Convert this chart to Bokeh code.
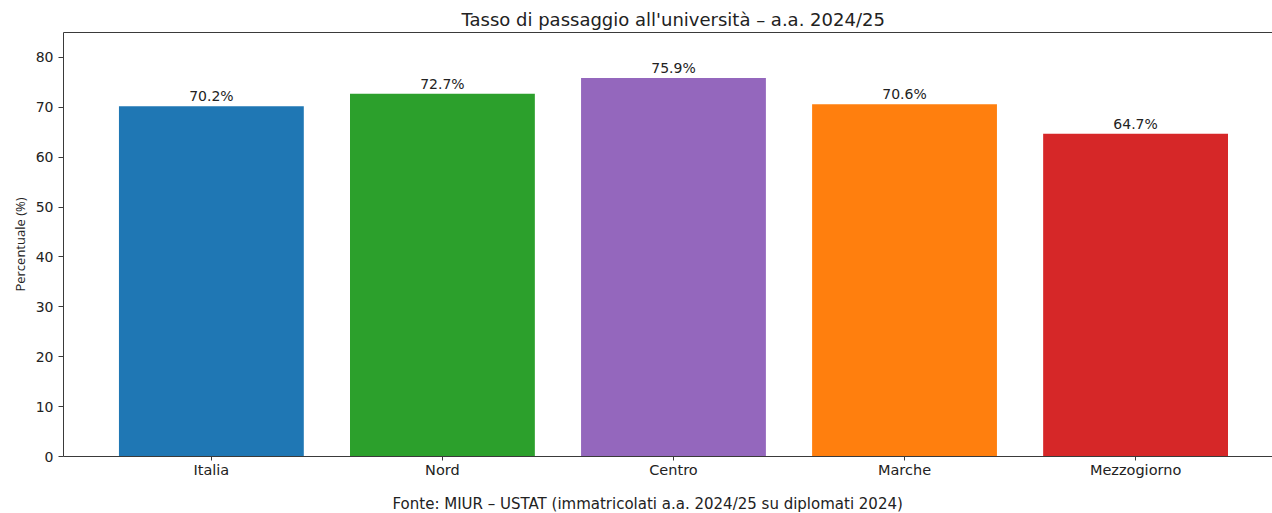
from bokeh.plotting import figure
from bokeh.models import ColumnDataSource, FixedTicker, LinearAxis, Range1d, Title
from bokeh.embed import file_html
from bokeh.resources import INLINE
from bokeh.core.properties import value

# ---- data ----
categories = ["Italia", "Nord", "Centro", "Marche", "Mezzogiorno"]
values = [70.2, 72.7, 75.9, 70.6, 64.7]
colors = ["#1f77b4", "#2ca02c", "#9467bd", "#ff7f0e", "#d62728"]
y_ticks = [0, 10, 20, 30, 40, 50, 60, 70, 80]
title_text = "Tasso di passaggio all'università – a.a. 2024/25"
source_text = "Fonte: MIUR – USTAT (immatricolati a.a. 2024/25 su diplomati 2024)"
y_label = "Percentuale (%)"

xs = list(range(len(categories)))
labels = [f"{v:.1f}%" for v in values]
src = ColumnDataSource(dict(x=xs, top=values, color=colors, label=labels))

TXT = "#222222"
AX = "#3a3a3a"

p = figure(width=1272, height=513, output_backend="svg", toolbar_location=None,
           x_range=Range1d(-0.64, 4.5926), y_range=Range1d(0, 85),
           min_border_left=63, min_border_right=0, min_border_top=32, min_border_bottom=57)
p.outline_line_color = None
p.xgrid.visible = False
p.ygrid.visible = False

p.vbar(x="x", top="top", bottom=0, width=0.8, fill_color="color", line_color=None, source=src)
p.text(x="x", y="top", text="label", source=src, text_align="center", text_baseline="bottom",
       y_offset=-2, text_font=value("DejaVu Sans"), text_font_size="14px", text_color=TXT)

# x axis
p.xaxis.ticker = FixedTicker(ticks=xs)
p.xaxis.major_label_overrides = {i: c for i, c in zip(xs, categories)}
p.xaxis.minor_tick_line_color = None
p.xaxis.major_tick_in = 0
p.xaxis.major_tick_out = 4
p.xaxis.major_label_standoff = 1
p.xaxis.axis_line_color = AX
p.xaxis.major_tick_line_color = AX
p.xaxis.major_label_text_font = "DejaVu Sans"
p.xaxis.major_label_text_font_size = "14.5px"
p.xaxis.major_label_text_color = TXT

# y axis
p.yaxis.ticker = FixedTicker(ticks=y_ticks)
p.yaxis.minor_tick_line_color = None
p.yaxis.major_tick_in = 0
p.yaxis.major_tick_out = 5
p.yaxis.major_label_standoff = 5
p.yaxis.axis_line_color = AX
p.yaxis.major_tick_line_color = AX
p.yaxis.major_label_text_font = "DejaVu Sans"
p.yaxis.major_label_text_font_size = "14px"
p.yaxis.major_label_text_color = TXT
p.yaxis.axis_label = y_label
p.yaxis.axis_label_text_font = "Open Sans"
p.yaxis.axis_label_text_font_size = "13px"
p.yaxis.axis_label_text_font_style = "normal"
p.yaxis.axis_label_text_color = TXT
p.yaxis.axis_label_standoff = 4

# top spine
top = LinearAxis(ticker=FixedTicker(ticks=[]), axis_line_color=AX,
                 major_tick_line_color=None, minor_tick_line_color=None,
                 major_label_text_font_size="0px")
p.add_layout(top, "above")

# title & source
p.title.text = title_text
p.title.align = "left"
p.title.offset = 398
p.title.standoff = 6
p.title.text_font = "DejaVu Sans"
p.title.text_font_size = "18px"
p.title.text_font_style = "normal"
p.title.text_color = TXT

spacer = Title(text=" ", standoff=2, text_font="DejaVu Sans", text_font_size="7px")
p.add_layout(spacer, "below")
src_title = Title(text=source_text, align="left", offset=329, standoff=0,
                  text_font="DejaVu Sans", text_font_size="15px",
                  text_font_style="normal", text_color=TXT)
p.add_layout(src_title, "below")

open("out.html", "w").write(file_html(p, INLINE))
